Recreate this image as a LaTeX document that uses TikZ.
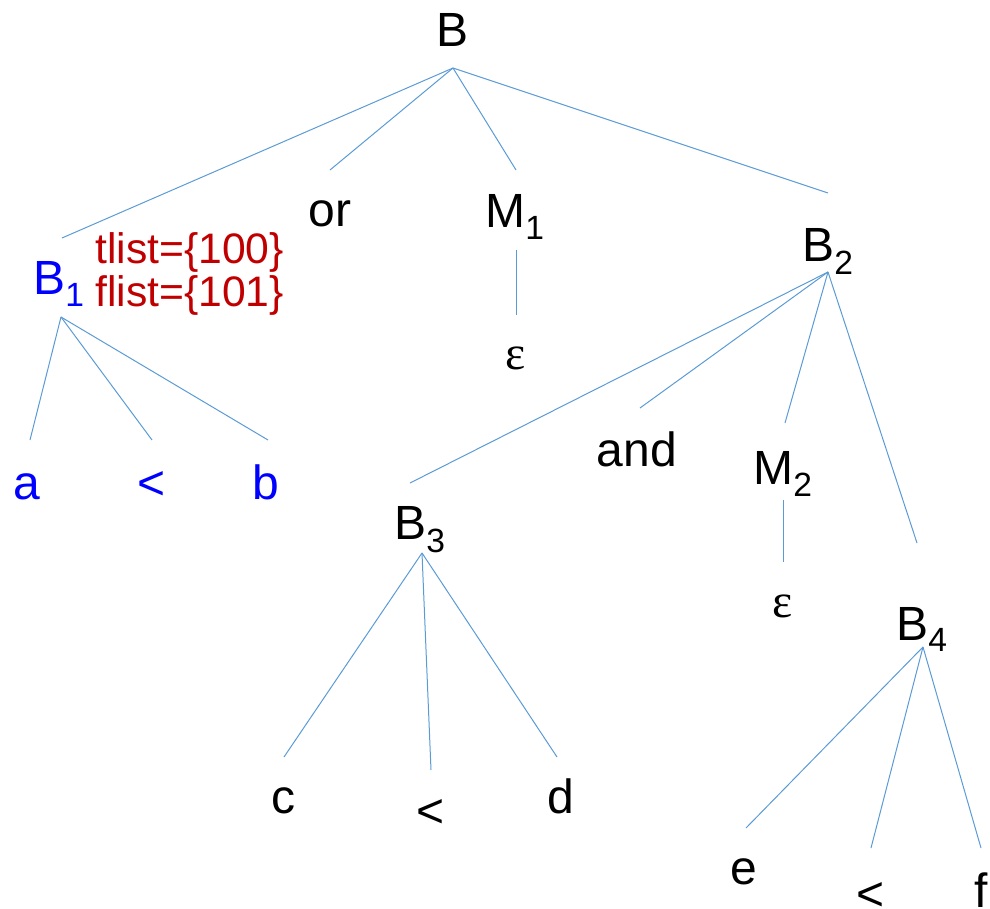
\documentclass[tikz,border=0pt]{standalone}
\usepackage{fontspec}
\setmainfont{Liberation Sans}
\newfontfamily\epsfont{Liberation Serif}
\usetikzlibrary{positioning}
\definecolor{edgeblue}{RGB}{91,155,213}
\definecolor{symblue}{RGB}{0,0,255}
\definecolor{listred}{RGB}{192,0,0}

\begin{document}
\begin{tikzpicture}[x=0.75pt, y=-0.75pt,
    sym/.style={inner sep=0pt, anchor=base, font=\fontsize{36}{40}\selectfont},
    leaf/.style={sym, text=symblue},
    eps/.style={sym, font=\fontsize{36}{40}\epsfont},
    attr/.style={inner sep=0pt, anchor=base west, text=listred, font=\fontsize{32}{36}\selectfont},
    edge/.style={draw=edgeblue, line width=0.75pt},
]
\useasboundingbox (0,0) rectangle (990,909);
% labels
\node[sym] (b) at (453,47) {B};
\node[sym, text=symblue] (b1) at (59,295) {B\textsubscript{1}};
\node[sym] (or) at (330,227) {or};
\node[sym] (m1) at (515,228) {M\textsubscript{1}};
\node[sym] (b2) at (828,262) {B\textsubscript{2}};
\node[attr] (tl) at (95,264) {tlist=\{100\}};
\node[attr] (fl) at (95,307) {flist=\{101\}};
\node[eps] (e1) at (516,370) {ε};
\node[leaf] (a) at (27,500) {a};
\node[leaf] (lt1) at (152,500) {<};
\node[leaf] (b0) at (266,500) {b};
\node[sym] (and) at (637,467) {and};
\node[sym] (m2) at (783,484) {M\textsubscript{2}};
\node[eps] (e2) at (783,617) {ε};
\node[sym] (b3) at (420,540) {B\textsubscript{3}};
\node[sym] (b4) at (922,640) {B\textsubscript{4}};
\node[sym] (c) at (283,813) {c};
\node[sym] (lt2) at (431,827) {<};
\node[sym] (d) at (561,813) {d};
\node[sym] (e) at (744,884) {e};
\node[sym] (lt3) at (871,910) {<};
\node[sym] (f) at (981,907) {f};
% ends of the branches
\coordinate (b-dn) at (453,68);
\coordinate (b1-up) at (62,238);
\coordinate (or-up) at (330,170);
\coordinate (m1-up) at (516,170);
\coordinate (b2-up) at (828,193);
\coordinate (b1-dn) at (61,317);
\coordinate (a-up) at (30,440);
\coordinate (lt1-up) at (152,440);
\coordinate (b0-up) at (268,440);
\coordinate (m1-dn) at (516,250);
\coordinate (e1-up) at (516,315);
\coordinate (b2-dn) at (828,272);
\coordinate (b3-up) at (410,483);
\coordinate (and-up) at (640,408);
\coordinate (m2-up) at (785,423);
\coordinate (b4-up) at (917,543);
\coordinate (m2-dn) at (783,500);
\coordinate (e2-up) at (783,562);
\coordinate (b3-dn) at (422,553);
\coordinate (c-up) at (284,757);
\coordinate (lt2-up) at (431,770);
\coordinate (d-up) at (557,757);
\coordinate (b4-dn) at (923,647);
\coordinate (e-up) at (746,828);
\coordinate (lt3-up) at (871,848);
\coordinate (f-up) at (981,848);
% branches
\draw[edge] (b-dn) -- (b1-up);
\draw[edge] (b-dn) -- (or-up);
\draw[edge] (b-dn) -- (m1-up);
\draw[edge] (b-dn) -- (b2-up);
\draw[edge] (b1-dn) -- (a-up);
\draw[edge] (b1-dn) -- (lt1-up);
\draw[edge] (b1-dn) -- (b0-up);
\draw[edge] (m1-dn) -- (e1-up);
\draw[edge] (b2-dn) -- (b3-up);
\draw[edge] (b2-dn) -- (and-up);
\draw[edge] (b2-dn) -- (m2-up);
\draw[edge] (b2-dn) -- (b4-up);
\draw[edge] (m2-dn) -- (e2-up);
\draw[edge] (b3-dn) -- (c-up);
\draw[edge] (b3-dn) -- (lt2-up);
\draw[edge] (b3-dn) -- (d-up);
\draw[edge] (b4-dn) -- (e-up);
\draw[edge] (b4-dn) -- (lt3-up);
\draw[edge] (b4-dn) -- (f-up);
\end{tikzpicture}
\end{document}
